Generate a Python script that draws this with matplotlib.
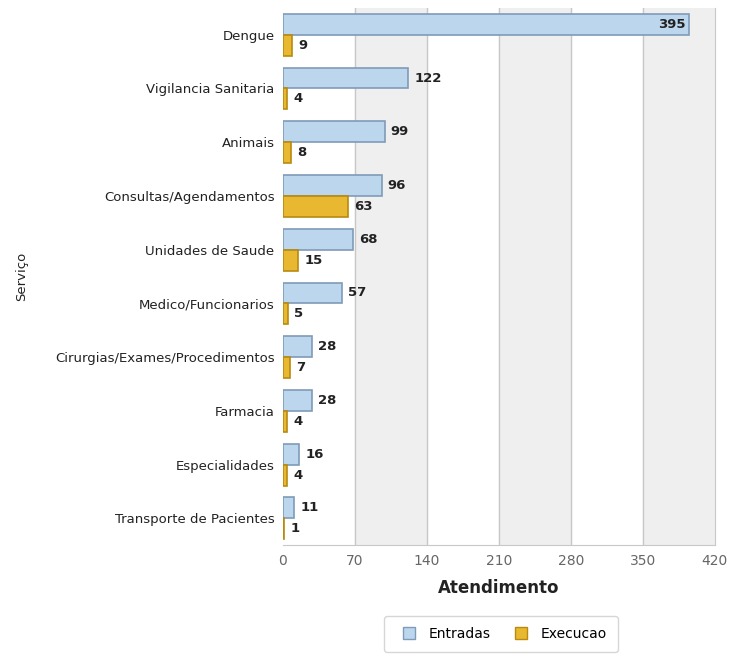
import matplotlib.pyplot as plt
from matplotlib.patches import FancyBboxPatch
from matplotlib.lines import Line2D
import numpy as np

servicos = ["Dengue", "Vigilancia Sanitaria", "Animais", "Consultas/Agendamentos",
            "Unidades de Saude", "Medico/Funcionarios", "Cirurgias/Exames/Procedimentos",
            "Farmacia", "Especialidades", "Transporte de Pacientes"]
entradas = [395, 122, 99, 96, 68, 57, 28, 28, 16, 11]
execucao = [9, 4, 8, 63, 15, 5, 7, 4, 4, 1]
ticks_x = [0, 70, 140, 210, 280, 350, 420]

fig = plt.figure(figsize=(7.33, 6.57), dpi=100)
ax = fig.add_axes([0.386, 0.170, 0.589, 0.818])

# faixas alternadas no fundo
for i in range(len(ticks_x) - 1):
    if i % 2 == 1:
        ax.axvspan(ticks_x[i], ticks_x[i + 1], color="#efefef", zorder=0)
for t in ticks_x[1:-1]:
    ax.axvline(t, color="#c8c8c8", lw=1, zorder=1)

y = np.arange(len(servicos))
h = 0.39
ax.barh(y - h / 2, entradas, height=h, color="#bcd6ee", edgecolor="#7f9bb8", lw=1.2, zorder=3)
ax.barh(y + h / 2, execucao, height=h, color="#e8b830", edgecolor="#b88a10", lw=1.2, zorder=3)

for yi, v in zip(y, entradas):
    if v > 300:
        ax.text(v - 3, yi - h / 2, str(v), ha="right", va="center", fontsize=9.5, fontweight="bold", color="#222222", zorder=4)
    else:
        ax.text(v + 6, yi - h / 2, str(v), ha="left", va="center", fontsize=9.5, fontweight="bold", color="#222222", zorder=4)
for yi, v in zip(y, execucao):
    ax.text(v + 6, yi + h / 2, str(v), ha="left", va="center", fontsize=9.5, fontweight="bold", color="#222222", zorder=4)

ax.set_xlim(0, 420)
ax.set_ylim(len(servicos) - 0.5, -0.5)
ax.set_xticks(ticks_x)
ax.set_xticklabels([str(t) for t in ticks_x], fontsize=10, color="#666666")
ax.set_yticks(y)
ax.set_yticklabels(servicos, fontsize=9.5, color="#222222")
ax.tick_params(length=0, pad=6)
for s in ax.spines.values():
    s.set_visible(False)
ax.spines["bottom"].set_visible(True)
ax.spines["bottom"].set_color("#c8c8c8")
ax.spines["right"].set_visible(True)
ax.spines["right"].set_color("#c8c8c8")

ax.set_xlabel("Atendimento", fontsize=12, fontweight="bold", color="#222222", labelpad=8)
fig.text(0.03, 0.58, "Serviço", rotation=90, ha="center", va="center", fontsize=9.5, color="#222222")

handles = [Line2D([], [], marker="s", ls="", markersize=9, markerfacecolor="#bcd6ee", markeredgecolor="#7f9bb8"),
           Line2D([], [], marker="s", ls="", markersize=9, markerfacecolor="#e8b830", markeredgecolor="#b88a10")]
leg = fig.legend(handles, ["Entradas", "Execucao"], loc="center", bbox_to_anchor=(0.683, 0.035),
                 ncol=2, fontsize=10, frameon=True, fancybox=True, handletextpad=0.4, columnspacing=1.2,
                 borderpad=0.8)
leg.get_frame().set_edgecolor("#cccccc")

fig.savefig("out.png", dpi=100)
